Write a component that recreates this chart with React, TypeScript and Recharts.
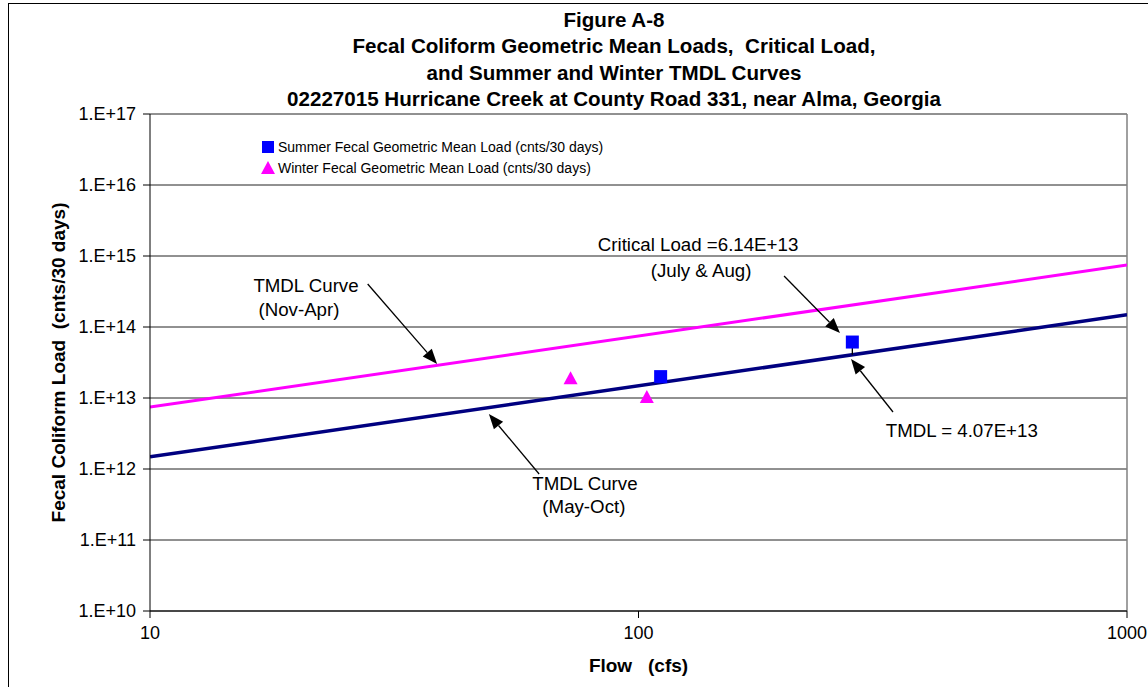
import React from "react";
import {
  ComposedChart,
  Line,
  Scatter,
  XAxis,
  YAxis,
  CartesianGrid,
  Legend,
  ReferenceLine,
  ReferenceDot,
} from "recharts";

// x ticks (cfs) and y ticks (cnts/30 days)
const flowTicks = [10, 100, 1000];
const loadTicks = [1e10, 1e11, 1e12, 1e13, 1e14, 1e15, 1e16, 1e17];

// TMDL curves, read at the ends of the x range
const curveFlow = [10, 1000];
const summerTmdl = [1.485e12, 1.485e14];
const winterTmdl = [7.45e12, 7.45e14];

// geometric mean loads
const summerFlow = [111, 274];
const summerLoad = [2.0e13, 6.14e13];
const winterFlow = [72.6, 104];
const winterLoad = [1.9e13, 1.03e13];

// annotation text lines (anchor in data units)
const noteText = [
  "TMDL Curve",
  "(Nov-Apr)",
  "Critical Load =6.14E+13",
  "(July & Aug)",
  "TMDL Curve",
  "(May-Oct)",
  "TMDL = 4.07E+13",
];
const noteFlow = [20.86, 20.18, 132.4, 134.3, 77.7, 77.3, 459];
const noteLoad = [3.9e14, 1.74e14, 1.43e15, 6.35e14, 6.35e11, 2.92e11, 3.54e12];

// arrows: tail -> head
const arrowFrom = [
  [27.9, 4.03e14],
  [198.6, 5.23e14],
  [62.6, 8.5e11],
  [331.9, 6.35e12],
];
const arrowTo = [
  [38.7, 3.01e13],
  [258.5, 8.23e13],
  [49.4, 5.95e12],
  [272.3, 3.54e13],
];

const summerCurveData = curveFlow.map((x, i) => ({ x, y: summerTmdl[i] }));
const winterCurveData = curveFlow.map((x, i) => ({ x, y: winterTmdl[i] }));
const summerData = summerFlow.map((x, i) => ({ x, y: summerLoad[i] }));
const winterData = winterFlow.map((x, i) => ({ x, y: winterLoad[i] }));

const FONT = "'Liberation Sans', Arial, sans-serif";

const fmtLoad = (v: number) => "1.E+" + Math.round(Math.log10(v));

// eslint-disable-next-line @typescript-eslint/no-explicit-any
const Arrow = (p: any) => {
  const { x1, y1, x2, y2 } = p;
  const dx = x2 - x1;
  const dy = y2 - y1;
  const len = Math.sqrt(dx * dx + dy * dy) || 1;
  const ux = dx / len;
  const uy = dy / len;
  const hl = 15;
  const hw = 6;
  const bx = x2 - ux * hl;
  const by = y2 - uy * hl;
  return (
    <g>
      <line x1={x1} y1={y1} x2={bx} y2={by} stroke="#000" strokeWidth={1.3} />
      <polygon
        points={`${x2},${y2} ${bx - uy * hw},${by + ux * hw} ${bx + uy * hw},${by - ux * hw}`}
        fill="#000"
      />
    </g>
  );
};

// eslint-disable-next-line @typescript-eslint/no-explicit-any
const Square = (p: any) => (
  <rect x={p.cx - 6.5} y={p.cy - 6.5} width={13} height={13} fill="#0000FF" />
);

// eslint-disable-next-line @typescript-eslint/no-explicit-any
const Triangle = (p: any) => (
  <polygon
    points={`${p.cx},${p.cy - 7} ${p.cx - 7},${p.cy + 6} ${p.cx + 7},${p.cy + 6}`}
    fill="#FF00FF"
  />
);

// eslint-disable-next-line @typescript-eslint/no-explicit-any
const LegendBox = ({ payload }: any) => (
  <div style={{ fontFamily: FONT, fontSize: 14, color: "#000" }}>
    {(payload || [])
      // eslint-disable-next-line @typescript-eslint/no-explicit-any
      .filter((entry: any) => entry.type !== "none" && typeof entry.value === "string" && entry.value.includes("Fecal"))
      // eslint-disable-next-line @typescript-eslint/no-explicit-any
      .map((entry: any, i: number) => (
        <div key={i} style={{ display: "flex", alignItems: "center", height: 21 }}>
          <svg width={17} height={14}>
            {entry.value.startsWith("Summer") ? (
              <rect x={1} y={1} width={12} height={12} fill="#0000FF" />
            ) : (
              <polygon points="7,0 0,13 14,13" fill="#FF00FF" />
            )}
          </svg>
          <span>{entry.value}</span>
        </div>
      ))}
  </div>
);

export default function App() {
  return (
    <div
      style={{
        position: "absolute",
        left: 0,
        top: 0,
        width: 1148,
        height: 687,
        overflow: "hidden",
        background: "#fff",
      }}
    >
      <div
        style={{
          position: "absolute",
          left: 8,
          top: 3,
          width: 1160,
          height: 700,
          border: "1px solid #000",
        }}
      />
      <div
        style={{
          position: "absolute",
          left: 214,
          top: 7,
          width: 800,
          textAlign: "center",
          fontFamily: FONT,
          fontWeight: "bold",
          fontSize: 20.6,
          lineHeight: "26.3px",
          color: "#000",
        }}
      >
        <div>Figure A-8</div>
        <div>Fecal Coliform Geometric Mean Loads,&nbsp; Critical Load,</div>
        <div>and Summer and Winter TMDL Curves</div>
        <div>02227015 Hurricane Creek at County Road 331, near Alma, Georgia</div>
      </div>
      <div style={{ position: "absolute", left: 0, top: 0 }}>
        <ComposedChart
          width={1148}
          height={687}
          margin={{ top: 114, right: 21, left: 0, bottom: 0 }}
          style={{ fontFamily: FONT }}
        >
          <CartesianGrid vertical={false} stroke="#222" strokeWidth={1} />
          <XAxis
            dataKey="x"
            type="number"
            scale="log"
            domain={[10, 1000]}
            ticks={flowTicks}
            allowDataOverflow
            height={76}
            tickSize={7}
            tickMargin={8}
            stroke="#000"
            tick={{ fill: "#000", fontSize: 18 }}
            label={{
              value: "Flow\u00A0\u00A0\u00A0(cfs)",
              position: "insideBottom",
              offset: 15,
              style: { fontWeight: "bold", fontSize: 19, fill: "#000" },
            }}
          />
          <YAxis
            dataKey="y"
            type="number"
            scale="log"
            domain={[1e10, 1e17]}
            ticks={loadTicks}
            allowDataOverflow
            width={150}
            tickSize={7}
            tickMargin={7}
            stroke="#000"
            tickFormatter={fmtLoad}
            tick={{ fill: "#000", fontSize: 18 }}
            label={{
              value: "Fecal Coliform Load\u00A0\u00A0(cnts/30 days)",
              angle: -90,
              position: "insideLeft",
              offset: 58,
              style: { fontWeight: "bold", fontSize: 19, fill: "#000", textAnchor: "middle" },
            }}
          />
          <ReferenceLine x={1000} stroke="#808080" strokeWidth={1.5} ifOverflow="visible" />
          <Legend
            layout="vertical"
            align="center"
            verticalAlign="middle"
            wrapperStyle={{ top: 136, left: 261, width: 400 }}
            content={<LegendBox />}
          />
          <Line
            data={winterCurveData}
            dataKey="y"
            stroke="#FF00FF"
            strokeWidth={3}
            dot={false}
            legendType="none"
            isAnimationActive={false}
          />
          <Line
            data={summerCurveData}
            dataKey="y"
            stroke="#000080"
            strokeWidth={3.5}
            dot={false}
            legendType="none"
            isAnimationActive={false}
          />
          <ReferenceLine
            segment={[
              { x: summerFlow[1], y: summerLoad[1] },
              { x: summerFlow[1], y: 4.07e13 },
            ]}
            stroke="#000"
            strokeWidth={1.3}
            ifOverflow="visible"
          />
          <Scatter
            name="Summer Fecal Geometric Mean Load (cnts/30 days)"
            data={summerData}
            shape={<Square />}
            isAnimationActive={false}
          />
          <Scatter
            name="Winter Fecal Geometric Mean Load (cnts/30 days)"
            data={winterData}
            shape={<Triangle />}
            isAnimationActive={false}
          />
          {arrowFrom.map((a, i) => (
            <ReferenceLine
              key={"arr" + i}
              segment={[
                { x: a[0], y: a[1] },
                { x: arrowTo[i][0], y: arrowTo[i][1] },
              ]}
              ifOverflow="visible"
              shape={Arrow}
            />
          ))}
          {noteText.map((t, i) => (
            <ReferenceDot
              key={"note" + i}
              x={noteFlow[i]}
              y={noteLoad[i]}
              r={0}
              ifOverflow="visible"
              // eslint-disable-next-line @typescript-eslint/no-explicit-any
              shape={(p: any) => (
                <text
                  x={p.cx}
                  y={p.cy}
                  textAnchor="middle"
                  dominantBaseline="central"
                  fontSize={18.7}
                  fontFamily={FONT}
                  fill="#000"
                >
                  {t}
                </text>
              )}
            />
          ))}
        </ComposedChart>
      </div>
    </div>
  );
}
